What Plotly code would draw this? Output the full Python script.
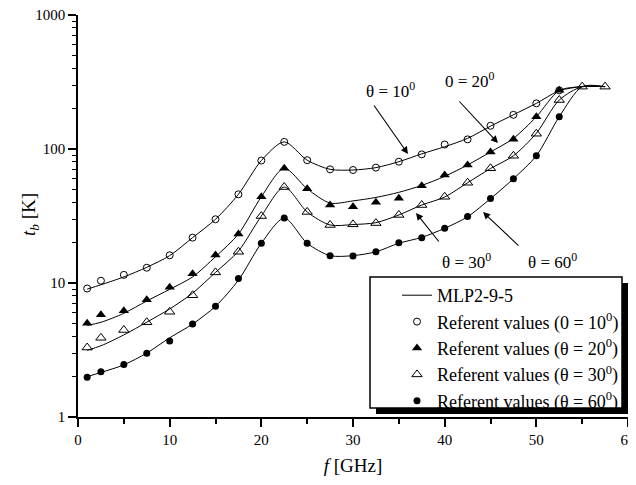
import plotly.graph_objects as go

# ---- data ----
freq_ref = [1, 2.5, 5, 7.5, 10, 12.5, 15, 17.5, 20, 22.5, 25, 27.5, 30, 32.5,
            35, 37.5, 40, 42.5, 45, 47.5, 50, 52.5]
freq_ref30 = freq_ref + [55, 57.5]
freq_model = freq_ref + [55, 57.5]

ref_10 = [9.1, 10.4, 11.5, 13.0, 16.1, 21.8, 29.9, 45.9, 82, 113, 82.5, 70.5, 69.7,
          72.6, 80.4, 91.2, 108, 118, 149, 180, 219, 274]
ref_20 = [5.0, 5.8, 6.2, 7.5, 9.3, 11.7, 16.2, 23.2, 44, 71.8, 50.5, 38.2, 37.1,
          40, 42.9, 53.2, 64, 76, 95, 118, 174, 274]
ref_30 = [3.3, 3.9, 4.46, 5.1, 6.1, 8.1, 12.0, 17.1, 31.6, 52, 33.9, 27.1, 27.4,
          28.0, 32.2, 38.2, 44, 56, 71.8, 89, 130, 232, 292, 292]
ref_60 = [1.98, 2.18, 2.47, 2.99, 3.69, 4.94, 6.7, 10.8, 19.8, 30.5, 19.8, 16.0, 15.9,
          17.1, 20.0, 21.8, 25.6, 31.4, 42.8, 60, 89, 174]

mlp_10 = [9.0, 9.7, 11.1, 13.1, 16.0, 21.8, 29.9, 45.9, 82, 113, 82.5, 70.5, 69.7,
          72.6, 80.4, 92, 104, 120, 148, 180, 219, 272, 292, 292]
mlp_20 = [4.83, 5.09, 5.94, 7.34, 8.97, 11.1, 15.7, 23.2, 44, 71.7, 50.5, 39.5, 41,
          43.5, 47.5, 53.5, 62.5, 76, 95, 120, 174, 273, 292, 292]
mlp_30 = [3.15, 3.4, 4.1, 5.1, 6.4, 8.4, 12.0, 17.3, 31.6, 52, 33.9, 27.1, 27.3,
          28.2, 32.2, 38.2, 43.8, 56, 71.5, 89, 131, 232, 292, 292]
mlp_60 = [2.0, 2.15, 2.45, 3.0, 3.9, 4.94, 6.7, 10.5, 19.8, 30.5, 19.8, 16.0, 16.0,
          17.1, 19.8, 21.9, 25.6, 31.2, 42.6, 60, 89, 174, 292, 292]

x_ticks = [0, 10, 20, 30, 40, 50, 60]
y_ticks = [1, 10, 100, 1000]

FONT = "Liberation Serif"

fig = go.Figure()

# model curves
for i, vals in enumerate([mlp_10, mlp_20, mlp_30, mlp_60]):
    fig.add_trace(go.Scatter(
        x=freq_model, y=vals, mode="lines",
        line=dict(color="black", width=1, shape="spline", smoothing=0.8),
        name="MLP2-9-5", showlegend=(i == 0), legendgroup="g0", legendrank=1,
    ))

sup = "<sup>0</sup>"
fig.add_trace(go.Scatter(
    x=freq_ref, y=ref_10, mode="markers", name=f"Referent values (0 = 10{sup})",
    marker=dict(symbol="circle-open", size=7, color="black", line=dict(width=1)),
    legendgroup="g1", legendrank=2))
fig.add_trace(go.Scatter(
    x=freq_ref, y=ref_20, mode="markers", name=f"Referent values (θ = 20{sup})",
    marker=dict(symbol="triangle-up", size=9, color="black"),
    legendgroup="g2", legendrank=3))
fig.add_trace(go.Scatter(
    x=freq_ref30, y=ref_30, mode="markers", name=f"Referent values (θ = 30{sup})",
    marker=dict(symbol="triangle-up-open", size=9, color="black", line=dict(width=1)),
    legendgroup="g3", legendrank=4))
fig.add_trace(go.Scatter(
    x=freq_ref, y=ref_60, mode="markers", name=f"Referent values (θ = 60{sup})",
    marker=dict(symbol="circle", size=7, color="black"),
    legendgroup="g4", legendrank=5))

# page offset of 8px (default body margin) is compensated in the figure size
OFF = 8
W, H = 636 - OFF, 485 - OFF
PL, PR, PT, PB = 78, 628, 15, 417   # plot area in page pixels
L, T = PL - OFF, PT - OFF
R = W - (PR - OFF)
B = H - (PB - OFF)


def px(x):
    return (x - PL) / (PR - PL)


def py(y):
    return (PB - y) / (PB - PT)


annotations = []
labels = [("θ = 10" + sup, 390, 90), ("0 = 20" + sup, 470, 80),
          ("θ = 30" + sup, 466, 261), ("θ = 60" + sup, 552, 261)]
for txt, x, y in labels:
    annotations.append(dict(text=txt, x=px(x), y=py(y), xref="paper", yref="paper",
                            xanchor="center", yanchor="middle",
                            showarrow=False, font=dict(family=FONT, size=17, color="black")))
arrows = [(408, 154, 373, 104), (498, 143, 458, 100), (416, 213, 440, 243), (483, 212, 520, 247)]
for hx, hy, tx, ty in arrows:
    annotations.append(dict(text="", x=px(hx), y=py(hy), xref="paper", yref="paper",
                            showarrow=True, arrowhead=2, arrowsize=1.3, arrowwidth=1.1,
                            arrowcolor="black", ax=tx - hx, ay=ty - hy, standoff=0))
# y-axis title
annotations.append(dict(text="<i>t</i><sub><i>b</i></sub> [K]", x=px(30), y=py(214),
                        xref="paper", yref="paper", xanchor="center", yanchor="middle",
                        textangle=-90, showarrow=False,
                        font=dict(family=FONT, size=19, color="black")))

shapes = [
    dict(type="rect", xref="paper", yref="paper",
         x0=px(376), x1=px(628), y0=py(414), y1=py(283),
         fillcolor="black", line=dict(width=0), layer="above"),
    dict(type="rect", xref="paper", yref="paper",
         x0=px(370), x1=px(622), y0=py(408), y1=py(277),
         fillcolor="white", line=dict(color="black", width=1.5), layer="above"),
]

fig.update_layout(
    width=W, height=H,
    margin=dict(l=L, r=R, t=T, b=B, autoexpand=False),
    paper_bgcolor="white", plot_bgcolor="white",
    font=dict(family=FONT, size=15, color="black"),
    showlegend=True,
    legend=dict(x=px(397), y=py(277), xanchor="left", yanchor="top",
                bgcolor="rgba(0,0,0,0)", borderwidth=0,
                font=dict(family=FONT, size=18), tracegroupgap=0,
                traceorder="grouped"),
    xaxis=dict(range=[0, 60], tickvals=x_ticks, ticktext=[str(v) for v in x_ticks],
               automargin=False, ticklabeloverflow="allow",
               showgrid=False, zeroline=False, showline=True, linecolor="black",
               linewidth=1.5, ticks="outside", ticklen=8, tickwidth=1.5, tickcolor="black",
               minor=dict(dtick=5, tick0=0, ticks="outside", ticklen=5, tickwidth=1.5,
                          tickcolor="black", showgrid=False),
               title=dict(text="<i>f</i> [GHz]", font=dict(size=19), standoff=12),
               tickfont=dict(size=15)),
    yaxis=dict(type="log", range=[0, 3], tickvals=y_ticks,
               ticktext=[str(v) for v in y_ticks],
               automargin=False, ticklabeloverflow="allow",
               showgrid=False, zeroline=False, showline=True, linecolor="black",
               linewidth=1.5, ticks="outside", ticklen=8, tickwidth=1.5, tickcolor="black",
               minor=dict(dtick="D1", ticks="outside", ticklen=4, tickwidth=1,
                          tickcolor="black", showgrid=False),
               tickfont=dict(size=15)),
    annotations=annotations,
    shapes=shapes,
)

fig.write_html("out.html")
